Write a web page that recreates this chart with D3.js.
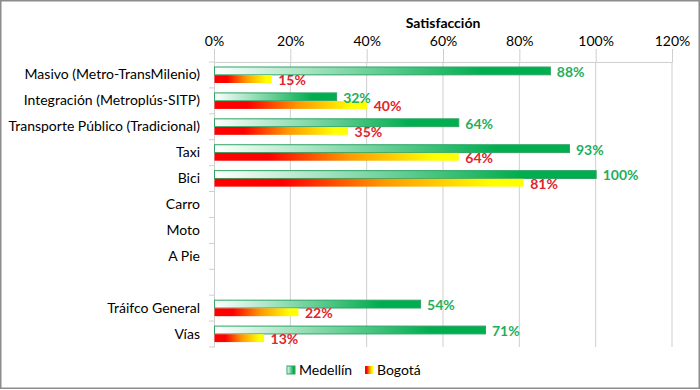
<!DOCTYPE html>
<html>
<head>
<meta charset="utf-8">
<script src="https://cdn.jsdelivr.net/npm/d3@7"></script>
<style>
  body { margin: 0; background: #fff; }
  text { font-family: Lato, "Open Sans", sans-serif; }
</style>
</head>
<body>
<svg id="chart" width="700" height="390"></svg>
<script>
"use strict";

// datos
const categories = ["Masivo (Metro-TransMilenio)", "Integración (Metroplús-SITP)",
  "Transporte Público (Tradicional)", "Taxi", "Bici", "Carro", "Moto", "A Pie", " ",
  "Tráifco General", "Vías"];
const series = ["Medellín", "Bogotá"];
const medellin = [0.88, 0.32, 0.64, 0.93, 1.00, null, null, null, null, 0.54, 0.71];
const bogota = [0.15, 0.40, 0.35, 0.64, 0.81, null, null, null, null, 0.22, 0.13];
const xTicks = [0, 0.2, 0.4, 0.6, 0.8, 1.0, 1.2];

const svg = d3.select("#chart");
const greenTxt = "#1fae5b", redTxt = "#e2242b";

// gradientes
const defs = svg.append("defs");
const gM = defs.append("linearGradient").attr("id", "gradMed");
gM.append("stop").attr("offset", "0%").attr("stop-color", "#ffffff");
gM.append("stop").attr("offset", "80%").attr("stop-color", "#00ad4f");
gM.append("stop").attr("offset", "100%").attr("stop-color", "#00ad4f");
const gB = defs.append("linearGradient").attr("id", "gradBog");
gB.append("stop").attr("offset", "0%").attr("stop-color", "#ff0000");
gB.append("stop").attr("offset", "22%").attr("stop-color", "#ff0000");
gB.append("stop").attr("offset", "55%").attr("stop-color", "#ff9900");
gB.append("stop").attr("offset", "90%").attr("stop-color", "#ffff00");
gB.append("stop").attr("offset", "100%").attr("stop-color", "#ffff00");

const x = d3.scaleLinear().domain([0, 1.2]).range([214, 672]);
const y = d3.scaleBand().domain(categories).range([62, 347]);
const yInner = d3.scaleBand().domain(series).range([5, 21]).paddingInner(0.04);

// borde
svg.append("rect").attr("x", 0.75).attr("y", 0.75).attr("width", 698.5).attr("height", 387.5)
  .attr("fill", "none").attr("stroke", "#8c8c8c").attr("stroke-width", 1.5);

// título
svg.append("text").attr("x", 443).attr("y", 28).attr("text-anchor", "middle")
  .attr("font-size", 14).attr("font-weight", "bold").attr("fill", "#000").text("Satisfacción");

// eje X arriba con líneas de cuadrícula
const xAxis = d3.axisTop(x).tickValues(xTicks).tickFormat(d3.format(".0%"))
  .tickSize(13).tickPadding(3);
const gx = svg.append("g").attr("transform", "translate(0,62)").call(xAxis);
gx.select(".domain").attr("stroke", "#cfcfcf");
gx.selectAll(".tick line").attr("stroke", "#cfcfcf");
gx.selectAll(".tick text").attr("font-size", 14).attr("fill", "#000")
  .style("font-family", "Lato, sans-serif");

svg.append("g").selectAll("line").data(xTicks.slice(1)).join("line")
  .attr("x1", d => x(d)).attr("x2", d => x(d))
  .attr("y1", 62).attr("y2", 347)
  .attr("stroke", "#cfcfcf");

// eje Y
const yAxis = d3.axisLeft(y).tickSize(0).tickPadding(14);
const gy = svg.append("g").attr("transform", "translate(214,0)").call(yAxis);
gy.select(".domain").attr("stroke", "#cfcfcf");
gy.selectAll(".tick text").attr("font-size", 14).attr("fill", "#000")
  .style("font-family", "Lato, sans-serif");
svg.append("g").selectAll("line").data(d3.range(categories.length + 1)).join("line")
  .attr("x1", 209).attr("x2", 214)
  .attr("y1", i => 62 + i * y.step()).attr("y2", i => 62 + i * y.step())
  .attr("stroke", "#cfcfcf");

// barras
const rows = categories.map((c, i) => ({ cat: c, med: medellin[i], bog: bogota[i] }));

const gBars = svg.append("g");
gBars.selectAll("rect.med").data(rows.filter(d => d.med != null)).join("rect")
  .attr("class", "med")
  .attr("x", x(0) + 0.5)
  .attr("y", d => y(d.cat) + yInner("Medellín"))
  .attr("width", d => x(d.med) - x(0))
  .attr("height", yInner.bandwidth())
  .attr("fill", "url(#gradMed)")
  .attr("stroke", "#2ea564").attr("stroke-width", 1);

gBars.selectAll("rect.bog").data(rows.filter(d => d.bog != null)).join("rect")
  .attr("class", "bog")
  .attr("x", x(0) + 0.5)
  .attr("y", d => y(d.cat) + yInner("Bogotá"))
  .attr("width", d => x(d.bog) - x(0))
  .attr("height", yInner.bandwidth())
  .attr("fill", "url(#gradBog)");

// etiquetas de valores
const fmt = d3.format(".0%");
gBars.selectAll("text.med").data(rows.filter(d => d.med != null)).join("text")
  .attr("x", d => x(d.med) + 7)
  .attr("y", d => y(d.cat) + yInner("Medellín") + yInner.bandwidth() / 2 + 1)
  .attr("dy", "0.35em")
  .attr("font-size", 14).attr("font-weight", "bold").attr("fill", greenTxt)
  .text(d => fmt(d.med));

gBars.selectAll("text.bog").data(rows.filter(d => d.bog != null)).join("text")
  .attr("x", d => x(d.bog) + 7)
  .attr("y", d => y(d.cat) + yInner("Bogotá") + yInner.bandwidth() / 2 + 1)
  .attr("dy", "0.35em")
  .attr("font-size", 14).attr("font-weight", "bold").attr("fill", redTxt)
  .text(d => fmt(d.bog));

// leyenda
const legend = svg.append("g");
const legX = [287, 365];
series.forEach((s, i) => {
  legend.append("rect").attr("x", legX[i]).attr("y", 366).attr("width", 8).attr("height", 8)
    .attr("fill", i === 0 ? "url(#gradMed)" : "url(#gradBog)")
    .attr("stroke", i === 0 ? "#2ea564" : "none");
  legend.append("text").attr("x", legX[i] + 12).attr("y", 370).attr("dy", "0.35em")
    .attr("font-size", 14).attr("fill", "#000").text(s);
});
</script>
</body>
</html>
